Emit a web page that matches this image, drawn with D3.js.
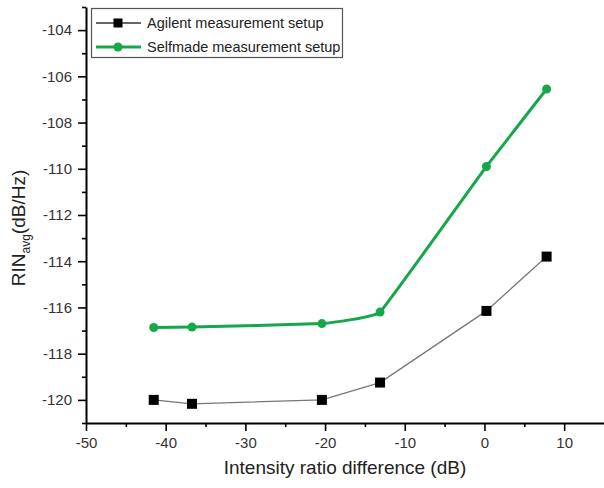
<!DOCTYPE html>
<html>
<head>
<meta charset="utf-8">
<script src="https://cdn.jsdelivr.net/npm/d3@7"></script>
<style>
  html, body { margin: 0; padding: 0; background: #fff; }
  svg { display: block; font-family: "Liberation Sans", Arial, sans-serif; }
</style>
</head>
<body>
<svg id="chart" width="604" height="488"></svg>
<script>
// Intensity ratio difference (dB) at each measurement point
const ratioDiff = [-41.5, -36.7, -20.4, -13.1, 0.25, 7.8];
// Averaged RIN (dB/Hz) for each setup
const agilentRIN = [-120.0, -120.17, -120.0, -119.25, -116.15, -113.8];
const selfmadeRIN = [-116.87, -116.85, -116.7, -116.2, -109.9, -106.55];

const xTicks = [-50, -40, -30, -20, -10, 0, 10];
const yTicks = [-120, -118, -116, -114, -112, -110, -108, -106, -104];
const seriesNames = ["Agilent measurement setup", "Selfmade measurement setup"];

const svg = d3.select("#chart");
const margin = { left: 86, right: 0, top: 7, bottom: 65 };
const W = 604, H = 488;

const x = d3.scaleLinear().domain([-50, 15]).range([margin.left, W - margin.right]);
const y = d3.scaleLinear().domain([-121, -103]).range([H - margin.bottom, margin.top]);

const green = "#14a84b";
const fmt = d => String(d); // plain hyphen-minus labels

// minor ticks
const xMinor = d3.range(-45, 15, 10);
const yMinor = d3.range(-121, -102, 2);

const gx = svg.append("g").attr("transform", `translate(0,${y(-121)})`);
gx.call(d3.axisBottom(x).tickValues(xMinor).tickSize(4).tickFormat(""))
  .call(g => g.select(".domain").remove());
gx.append("g").call(d3.axisBottom(x).tickValues(xTicks).tickSize(8).tickPadding(6).tickSizeOuter(0).tickFormat(fmt));

const gy = svg.append("g").attr("transform", `translate(${x(-50)},0)`);
gy.call(d3.axisLeft(y).tickValues(yMinor).tickSize(4).tickFormat(""))
  .call(g => g.select(".domain").remove());
gy.append("g").call(d3.axisLeft(y).tickValues(yTicks).tickSize(8).tickPadding(6).tickSizeOuter(0).tickFormat(fmt));

svg.selectAll(".domain").attr("stroke", "#000").attr("stroke-width", 2);
svg.selectAll(".tick line").attr("stroke", "#000").attr("stroke-width", 1.6);
svg.selectAll(".tick text").attr("fill", "#333").attr("font-size", 15)
  .attr("font-family", "'Liberation Sans', Arial, sans-serif");

// Agilent series
const ptsA = ratioDiff.map((d, i) => [d, agilentRIN[i]]);
svg.append("path")
  .attr("d", d3.line().x(d => x(d[0])).y(d => y(d[1]))(ptsA))
  .attr("fill", "none").attr("stroke", "#777").attr("stroke-width", 1.3);
svg.append("g").selectAll("rect").data(ptsA).join("rect")
  .attr("x", d => x(d[0]) - 5).attr("y", d => y(d[1]) - 5)
  .attr("width", 10).attr("height", 10).attr("fill", "#000");

// Selfmade series
const ptsS = ratioDiff.map((d, i) => [d, selfmadeRIN[i]]);
svg.append("path")
  .attr("d", d3.line().curve(d3.curveCardinal.tension(0.8)).x(d => x(d[0])).y(d => y(d[1]))(ptsS))
  .attr("fill", "none").attr("stroke", green).attr("stroke-width", 3);
svg.append("g").selectAll("circle").data(ptsS).join("circle")
  .attr("cx", d => x(d[0])).attr("cy", d => y(d[1])).attr("r", 4.5).attr("fill", green);

// Legend
const lg = svg.append("g");
lg.append("rect").attr("x", 91.5).attr("y", 8.5).attr("width", 251).attr("height", 49)
  .attr("fill", "#fff").attr("stroke", "#555").attr("stroke-width", 1.2);
lg.append("line").attr("x1", 96).attr("x2", 141).attr("y1", 23).attr("y2", 23)
  .attr("stroke", "#333").attr("stroke-width", 1.3);
lg.append("rect").attr("x", 113.5).attr("y", 18.5).attr("width", 9).attr("height", 9).attr("fill", "#000");
lg.append("line").attr("x1", 96).attr("x2", 141).attr("y1", 47).attr("y2", 47)
  .attr("stroke", green).attr("stroke-width", 3);
lg.append("circle").attr("cx", 118).attr("cy", 47).attr("r", 4.5).attr("fill", green);
lg.selectAll("text.lbl").data(seriesNames).join("text")
  .attr("class", "lbl")
  .attr("x", 147).attr("y", (d, i) => 28 + i * 24)
  .attr("font-size", 14.5).attr("fill", "#222").text(d => d);

// Axis titles
svg.append("text")
  .attr("x", (x(-50) + x(15)) / 2).attr("y", 474)
  .attr("text-anchor", "middle").attr("font-size", 19).attr("fill", "#222")
  .text("Intensity ratio difference (dB)");

const yt = svg.append("text")
  .attr("transform", "translate(25,228) rotate(-90)")
  .attr("text-anchor", "middle").attr("font-size", 19).attr("fill", "#222");
yt.append("tspan").text("RIN");
yt.append("tspan").attr("font-size", 12).attr("dy", 5).text("avg");
yt.append("tspan").attr("dy", -5).text("(dB/Hz)");
</script>
</body>
</html>
